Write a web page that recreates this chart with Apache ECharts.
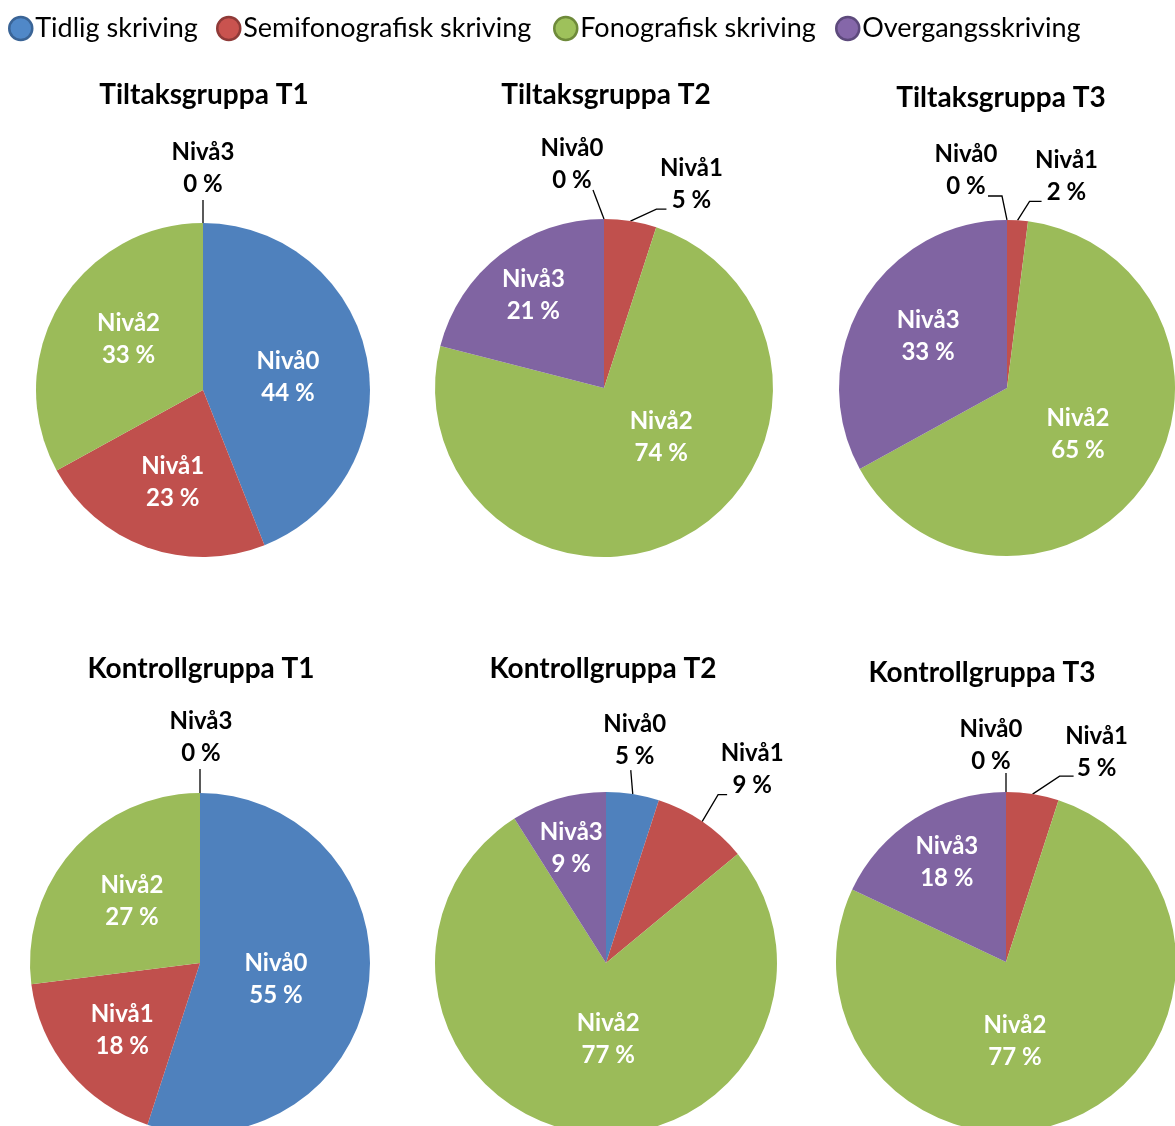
<!DOCTYPE html>
<html>
<head>
<meta charset="utf-8">
<title>Skriveutvikling – tiltaks- og kontrollgrupper</title>
<script src="https://cdn.jsdelivr.net/npm/echarts@6/dist/echarts.min.js"></script>
<style>
  html, body { margin: 0; padding: 0; background: #fff; }
  #chart { width: 1175px; height: 1126px; }
</style>
</head>
<body>
<div id="chart"></div>
<script>
// Writing stages (legend) and the level names printed on the slices
const categories = ['Tidlig skriving', 'Semifonografisk skriving', 'Fonografisk skriving', 'Overgangsskriving'];
const levels = ['Nivå0', 'Nivå1', 'Nivå2', 'Nivå3'];

// Panel titles, row by row
const panelTitles = ['Tiltaksgruppa T1', 'Tiltaksgruppa T2', 'Tiltaksgruppa T3',
                     'Kontrollgruppa T1', 'Kontrollgruppa T2', 'Kontrollgruppa T3'];

// Share of pupils (%) at each level
const tiltakT1 = [44, 23, 33, 0];
const tiltakT2 = [0, 5, 74, 21];
const tiltakT3 = [0, 2, 65, 33];
const kontrollT1 = [55, 18, 27, 0];
const kontrollT2 = [5, 9, 77, 9];
const kontrollT3 = [0, 5, 77, 18];

const panelValues = [tiltakT1, tiltakT2, tiltakT3, kontrollT1, kontrollT2, kontrollT3];

// ---- presentation ----
const FONT = 'Lato, Carlito, "Open Sans", "Liberation Sans", sans-serif';
const sliceColors = ['#4F81BD', '#C0504D', '#9BBB59', '#8064A2'];
const legendFill = ['#5088C8', '#C9534F', '#9EC15B', '#8567A9'];
const legendEdge = ['#3A6496', '#8F3A38', '#6E8A3A', '#5D4A7C'];
const legendLeft = [8, 216, 553, 835];

// pie centre / radius and title anchor for each panel
const panelLayout = [
  { center: [203, 390], radius: 167, title: [204, 81] },
  { center: [604, 388], radius: 169, title: [606, 81] },
  { center: [1007, 388], radius: 168, title: [1001, 84] },
  { center: [200, 963], radius: 170, title: [201, 655] },
  { center: [606, 963], radius: 171, title: [603, 655] },
  { center: [1006, 962], radius: 170, title: [982, 659] }
];

// Label placement per slice.
//  d   : nudge of an inside label from its default spot
//  out : label outside the pie; 'line' = leader bends relative to the rim point,
//        'at' = label centre relative to the rim point
const labelPlacement = [
  [{ d: [0, 3] }, { d: [-1, 11] }, { d: [0, -7] },
   { out: true, line: [[0, -23]], at: [0, -55] }],
  [{ out: true, line: [[-11, -29]], at: [-32, -55] },
   { out: true, line: [[26, -12], [36, -12]], at: [61, -37] },
   { d: [15, -27] }, { d: [-17, -24] }],
  [{ out: true, line: [[-5, -24], [-19, -24]], at: [-41, -50] },
   { out: true, line: [[12, -19], [24, -19]], at: [49, -44] },
   { d: [-1, -3] }, { d: [-4, -7] }],
  [{ d: [-11, 2] }, { d: [-10, 11] }, { d: [-2, -4] },
   { out: true, line: [[0, -24]], at: [1, -56] }],
  [{ out: true, line: [[-2, -24]], at: [2, -54] },
   { out: true, line: [[16, -27], [25, -27]], at: [50, -52] },
   { d: [16, -11] }, { d: [-10, -30] }],
  [{ out: true, line: [[0, -19]], at: [-15, -47] },
   { out: true, line: [[27, -18], [41, -18]], at: [64, -42] },
   { d: [-26, -1] }, { d: [-12, -25] }]
];

function makeLabelLayout(place) {
  return function (params) {
    const p = place[params.dataIndex];
    if (!p) return {};
    if (p.out) {
      const pts = params.labelLinePoints;
      if (!pts || !pts.length) return {};
      const p0 = pts[0];
      const linePts = [[p0[0], p0[1]]].concat(p.line.map(function (o) {
        return [p0[0] + o[0], p0[1] + o[1]];
      }));
      return {
        x: p0[0] + p.at[0],
        y: p0[1] + p.at[1],
        align: 'center',
        verticalAlign: 'middle',
        labelLinePoints: linePts
      };
    }
    const r = params.labelRect;
    return {
      x: r.x + r.width / 2 + p.d[0],
      y: r.y + r.height / 2 + p.d[1],
      align: 'center',
      verticalAlign: 'middle'
    };
  };
}

const series = panelValues.map(function (vals, i) {
  const lay = panelLayout[i];
  const place = labelPlacement[i];
  return {
    type: 'pie',
    center: lay.center,
    radius: lay.radius,
    startAngle: 90,
    clockwise: true,
    avoidLabelOverlap: false,
    animation: false,
    silent: true,
    itemStyle: { borderWidth: 0 },
    labelLine: { show: true, length: 15, length2: 10, lineStyle: { color: '#000', width: 1.3 } },
    labelLayout: makeLabelLayout(place),
    data: vals.map(function (v, k) {
      const out = place[k] && place[k].out;
      return {
        name: categories[k],
        value: v,
        itemStyle: { color: sliceColors[k] },
        label: {
          show: true,
          position: out ? 'outside' : 'inside',
          color: out ? '#000' : '#fff',
          fontFamily: FONT,
          fontWeight: 'bold',
          fontSize: 24,
          lineHeight: 32,
          formatter: function () { return levels[k] + '\n' + v + ' %'; }
        },
        labelLine: { show: !!out }
      };
    })
  };
});

const titles = panelTitles.map(function (t, i) {
  return {
    text: t,
    left: panelLayout[i].title[0],
    top: panelLayout[i].title[1],
    textAlign: 'center',
    padding: 0,
    textStyle: { fontFamily: FONT, fontWeight: 'bold', fontSize: 28, color: '#000' }
  };
});

const legends = categories.map(function (c, k) {
  return {
    left: legendLeft[k],
    top: 15,
    padding: 0,
    icon: 'circle',
    itemWidth: 23,
    itemHeight: 23,
    selectedMode: false,
    textStyle: { fontFamily: FONT, fontSize: 27, color: '#000', padding: [0, 0, 0, -2] },
    data: [{
      name: c,
      itemStyle: { color: legendFill[k], borderColor: legendEdge[k], borderWidth: 2.5 }
    }]
  };
});

const chart = echarts.init(document.getElementById('chart'), null, { renderer: 'canvas' });
chart.setOption({
  backgroundColor: '#fff',
  animation: false,
  title: titles,
  legend: legends,
  series: series
});
</script>
</body>
</html>
